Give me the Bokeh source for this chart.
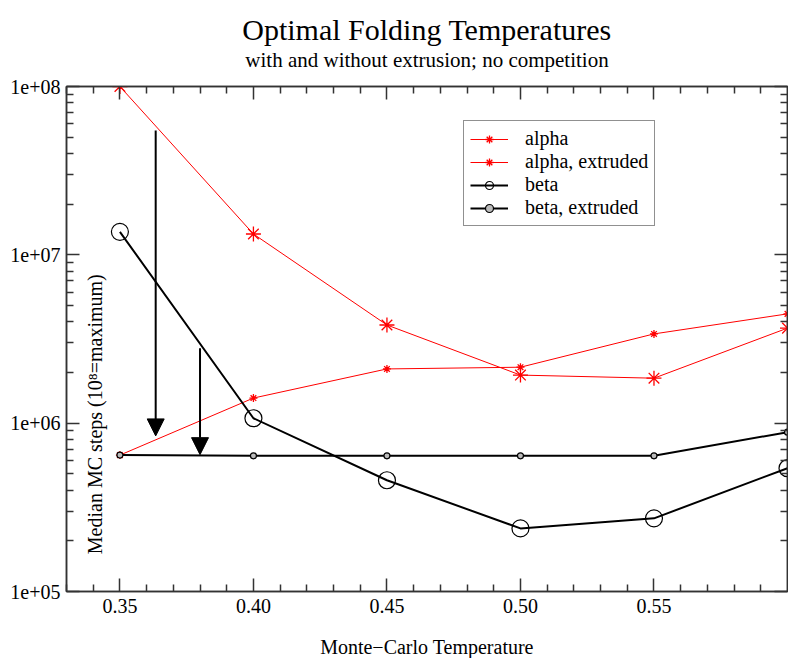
import math
from bokeh.plotting import figure
from bokeh.models import (FixedTicker, LinearAxis, LogAxis, CustomJSTickFormatter,
                          NumeralTickFormatter, Title, Label, Arrow, NormalHead, Legend)
from bokeh.embed import file_html
from bokeh.resources import INLINE

# ---- data ----
temperature = [0.35, 0.40, 0.45, 0.50, 0.55, 0.60]
alpha = [1.0e8, 1.33e7, 3.83e6, 1.93e6, 1.85e6, 3.67e6]
alpha_extruded = [6.46e5, 1.41e6, 2.10e6, 2.15e6, 3.39e6, 4.46e6]
beta = [1.37e7, 1.07e6, 4.58e5, 2.37e5, 2.72e5, 5.40e5]
beta_extruded = [6.46e5, 6.40e5, 6.40e5, 6.40e5, 6.40e5, 8.84e5]

# arrows (annotation): x, y_start, y_end
arrow_x = [0.3634, 0.3800]
arrow_y_start = [5.47e7, 2.79e6]
arrow_y_end = [8.4e5, 6.5e5]

x_major_ticks = [0.35, 0.40, 0.45, 0.50, 0.55]
x_minor_ticks = [0.33, 0.34, 0.36, 0.37, 0.38, 0.39, 0.41, 0.42, 0.43, 0.44,
                 0.46, 0.47, 0.48, 0.49, 0.51, 0.52, 0.53, 0.54, 0.56, 0.57,
                 0.58, 0.59]
y_major_ticks = [1e5, 1e6, 1e7, 1e8]
y_minor_ticks = [m * d for d in (1e5, 1e6, 1e7) for m in range(2, 10)]

title_text = "Optimal Folding Temperatures"
subtitle_text = "with and without extrusion; no competition"
x_label_text = "Monte\u2212Carlo Temperature"
y_label_text = "Median MC steps (10\u2078=maximum)"

FONT = "Liberation Serif"
AX = "#333333"

p = figure(frame_width=721, frame_height=505,
           x_range=(0.33, 0.60), y_range=(1e5, 1e8), y_axis_type="log",
           output_backend="svg", toolbar_location=None,
           min_border_left=66, min_border_right=1, min_border_top=86,
           min_border_bottom=67, background_fill_color="white",
           border_fill_color="white")
p.xgrid.visible = False
p.ygrid.visible = False
p.outline_line_color = AX
p.outline_line_width = 1.5

xticker = FixedTicker(ticks=x_major_ticks, minor_ticks=x_minor_ticks)
yticker = FixedTicker(ticks=y_major_ticks, minor_ticks=y_minor_ticks)
yfmt = CustomJSTickFormatter(code="""
const e = Math.round(Math.log10(tick));
return '1e+' + (e < 10 ? '0' : '') + e;
""")
empty_fmt = CustomJSTickFormatter(code="return '';")


def style_axis(ax):
    ax.axis_line_color = AX
    ax.axis_line_width = 1.5
    ax.major_tick_line_color = AX
    ax.minor_tick_line_color = AX
    ax.major_tick_line_width = 1.5
    ax.minor_tick_line_width = 1.5
    ax.major_tick_in = 13
    ax.major_tick_out = 0
    ax.minor_tick_in = 7
    ax.minor_tick_out = 0
    ax.major_label_text_font = FONT
    ax.major_label_text_font_size = "20px"
    ax.major_label_text_color = "black"
    ax.axis_label_text_font = FONT
    ax.axis_label_text_font_size = "20px"
    ax.axis_label_text_font_style = "normal"
    ax.axis_label_text_color = "black"


xa = p.xaxis[0]
xa.ticker = xticker
xa.formatter = NumeralTickFormatter(format="0.00")
style_axis(xa)
xa.major_label_standoff = 7
xa.axis_label = x_label_text
xa.axis_label_standoff = 20

ya = p.yaxis[0]
ya.ticker = yticker
ya.formatter = yfmt
style_axis(ya)
ya.major_label_standoff = 6

top = LinearAxis(ticker=xticker, formatter=empty_fmt)
style_axis(top)
top.major_label_text_font_size = "1px"
top.major_label_standoff = 0
p.add_layout(top, "above")

right = LogAxis(ticker=yticker, formatter=empty_fmt)
style_axis(right)
right.major_label_text_font_size = "1px"
right.major_label_standoff = 0
p.add_layout(right, "right")

p.add_layout(Title(text=subtitle_text, align="center", standoff=30,
                   text_font=FONT, text_font_size="21px", text_font_style="normal",
                   text_color="black"), "above")
p.add_layout(Title(text=title_text, align="center", standoff=-30,
                   text_font=FONT, text_font_size="30px", text_font_style="normal",
                   text_color="black"), "above")

RED = "#ff0000"
r1 = p.line(temperature, alpha, line_color=RED, line_width=1)
s1 = p.scatter(temperature, alpha, marker="asterisk", size=15, line_color=RED, line_width=1.3)
r2 = p.line(temperature, alpha_extruded, line_color=RED, line_width=1)
s2 = p.scatter(temperature, alpha_extruded, marker="asterisk", size=8, line_color=RED, line_width=1.3)
r3 = p.line(temperature, beta, line_color="black", line_width=2)
s3 = p.scatter(temperature, beta, marker="circle", size=17, line_color="black",
               fill_color=None, line_width=1.2)
r4 = p.line(temperature, beta_extruded, line_color="black", line_width=2)
s4 = p.scatter(temperature, beta_extruded, marker="circle", size=6, line_color="black",
               fill_color="#bbbbbb", line_width=1.2)

legend = Legend(items=[("alpha", [r1, s1]), ("alpha, extruded", [r2, s2]),
                       ("beta", [r3, s3]), ("beta, extruded", [r4, s4])],
                location=(397, 365), orientation="vertical",
                label_text_font=FONT, label_text_font_size="20px",
                label_text_color="black",
                glyph_width=38, glyph_height=20, label_height=20, label_standoff=17,
                padding=6, spacing=0, margin=0,
                border_line_color="#222222", border_line_width=1,
                background_fill_color="white", background_fill_alpha=1)
p.add_layout(legend, "center")

for xv, ys, ye in zip(arrow_x, arrow_y_start, arrow_y_end):
    p.add_layout(Arrow(x_start=xv, y_start=ys, x_end=xv, y_end=ye,
                       line_color="black", line_width=2,
                       end=NormalHead(size=17, fill_color="black", line_color="black",
                                      line_width=1)))

p.add_layout(Label(x=0.3407, y=1.13e6, text=y_label_text,
                   angle=math.pi / 2, text_align="center", text_baseline="middle",
                   text_font=FONT, text_font_size="20px", text_color="black"))

open("out.html", "w").write(file_html(p, INLINE))
